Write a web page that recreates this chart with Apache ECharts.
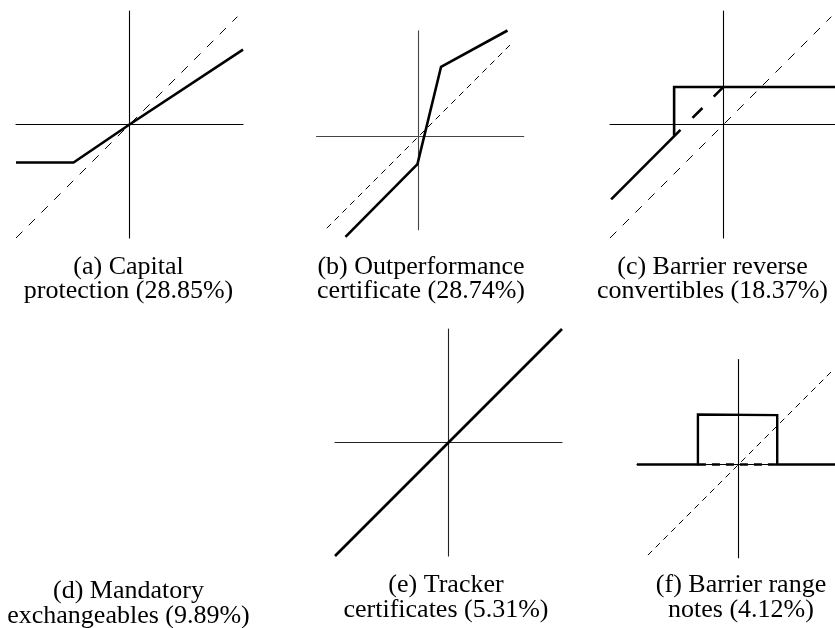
<!DOCTYPE html>
<html>
<head>
<meta charset="utf-8">
<script src="https://cdn.jsdelivr.net/npm/echarts@6/dist/echarts.min.js"></script>
<style>
html,body{margin:0;padding:0;background:#fff;}
#chart{width:835px;height:628px;}
</style>
</head>
<body>
<div id="chart"></div>
<script>
// ---- captions ----
const captionLine1 = ['(a) Capital', '(b) Outperformance', '(c) Barrier reverse', '(d) Mandatory', '(e) Tracker', '(f) Barrier range'];
const captionLine2 = ['protection (28.85%)', 'certificate (28.74%)', 'convertibles (18.37%)', 'exchangeables (9.89%)', 'certificates (5.31%)', 'notes (4.12%)'];

// ---- payoff data (x = underlying, y = payoff) ----
const underlyingA = [[-1, -1], [0.95, 0.95]];
const payoffA = [[-1, -0.335], [-0.493, -0.335], [0, 0], [1, 0.66]];

const underlyingB = [[-0.89, -0.89], [0.9, 0.9]];
const payoffB = [[-0.709, -0.974], [-0.01, -0.268], [0.219, 0.677], [0.864, 1.029]];

const underlyingC = [[-1, -1], [0.95, 0.95]];
const payoffCLow = [[-0.99, -0.659], [-0.379, -0.048]];
const payoffCHidden = [[-0.273, 0.058], [0, 0.331]];
const payoffCHigh = [[-0.435, -0.1], [-0.435, 0.331], [1.05, 0.331]];

const payoffE = [[-1, -1], [1, 1]];

const underlyingF = [[-0.88, -0.88], [0.9, 0.9]];
const payoffF = [[-0.986, 0], [-0.394, 0], [-0.394, 0.485], [0.376, 0.479], [0.376, 0], [1.05, 0]];
const payoffFHidden = [[-0.394, 0], [0.376, 0]];

// axis ranges per panel
const xRanges = [[-1, 1], [-0.99, 1.022], [-1, 1], [-1, 1], [-0.986, 1.0]];
const yRanges = [[-1, 1], [-0.906, 1.026], [-1, 1], [-1, 1], [-0.906, 1.019]];

// ---- layout ----
const panels = [
  {cx: 129.5, cy: 124.5, u: 113.5, axisColor: '#000'},
  {cx: 418.5, cy: 136.5, u: 103, axisColor: '#444'},
  {cx: 723.5, cy: 124.5, u: 113.5, axisColor: '#000'},
  {cx: 448.5, cy: 442.5, u: 113.5, axisColor: '#222'},
  {cx: 738.5, cy: 464.5, u: 103, axisColor: '#000'}
];
const captionPos = [
  {x: 128.5, y1: 267, y2: 291},
  {x: 421, y1: 267, y2: 291},
  {x: 712.5, y1: 267, y2: 291},
  {x: 128.5, y1: 591, y2: 616},
  {x: 446, y1: 585, y2: 610},
  {x: 741, y1: 585, y2: 610}
];

const grids = [], xAxes = [], yAxes = [];
panels.forEach((p, i) => {
  const xr = xRanges[i], yr = yRanges[i];
  grids.push({
    left: p.cx + xr[0] * p.u,
    top: p.cy - yr[1] * p.u,
    width: (xr[1] - xr[0]) * p.u,
    height: (yr[1] - yr[0]) * p.u,
    containLabel: false,
    outerBoundsMode: 'none'
  });
  const axisCommon = {
    type: 'value',
    gridIndex: i,
    axisLine: {show: true, onZero: true, lineStyle: {color: p.axisColor, width: 1.1}},
    axisTick: {show: false},
    axisLabel: {show: false},
    splitLine: {show: false}
  };
  xAxes.push(Object.assign({}, axisCommon, {min: xr[0], max: xr[1]}));
  yAxes.push(Object.assign({}, axisCommon, {min: yr[0], max: yr[1]}));
});

function line(idx, data, width, dash, z) {
  return {
    type: 'line',
    xAxisIndex: idx,
    yAxisIndex: idx,
    data: data,
    symbol: 'none',
    showSymbol: false,
    clip: false,
    silent: true,
    animation: false,
    z: z || 2,
    lineStyle: {color: '#000', width: width, type: dash || 'solid', join: 'miter', cap: 'butt'}
  };
}

const series = [
  line(0, underlyingA, 1, [9, 9], 2),
  line(0, payoffA, 2.6, 'solid', 3),
  line(1, underlyingB, 1, [6, 5], 2),
  line(1, payoffB, 2.6, 'solid', 3),
  line(2, underlyingC, 1, [9, 9], 2),
  line(2, payoffCLow, 2.6, 'solid', 3),
  line(2, payoffCHidden, 2.6, [14, 16], 3),
  line(2, payoffCHigh, 2.6, 'solid', 3),
  line(3, payoffE, 2.6, 'solid', 3),
  line(4, underlyingF, 1, [6, 5], 2),
  line(4, payoffF, 2.4, 'solid', 3),
  line(4, payoffFHidden, 2.6, [8, 6], 3)
];

const graphics = [];
captionPos.forEach((c, i) => {
  [[captionLine1[i], c.y1], [captionLine2[i], c.y2]].forEach(([t, y]) => {
    graphics.push({
      type: 'text',
      x: c.x,
      y: y,
      silent: true,
      style: {
        text: t,
        fontFamily: '"Liberation Serif", "Times New Roman", serif',
        fontSize: 26,
        fill: '#000',
        align: 'center',
        verticalAlign: 'middle',
        textAlign: 'center',
        textVerticalAlign: 'middle'
      }
    });
  });
});

const chart = echarts.init(document.getElementById('chart'), null, {renderer: 'canvas'});
chart.setOption({
  backgroundColor: '#fff',
  animation: false,
  grid: grids,
  xAxis: xAxes,
  yAxis: yAxes,
  series: series,
  graphic: graphics
});
</script>
</body>
</html>
